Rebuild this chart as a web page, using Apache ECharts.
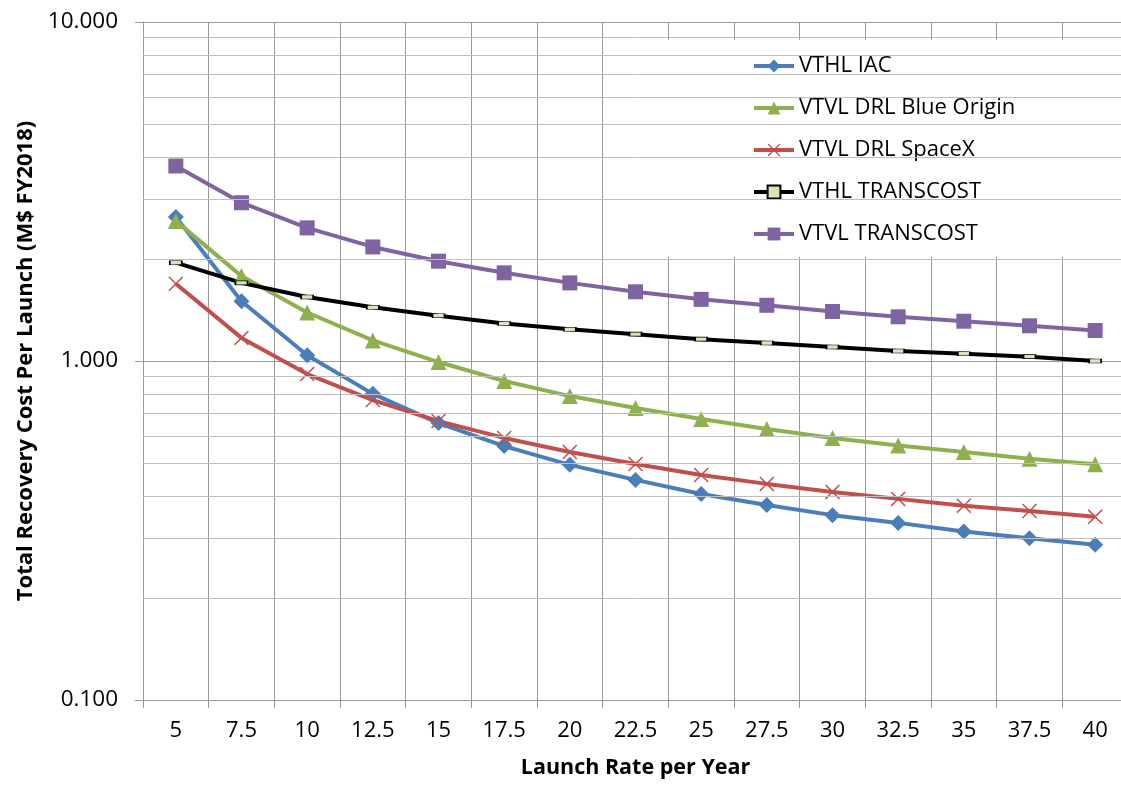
<!DOCTYPE html>
<html>
<head>
<meta charset="utf-8">
<script src="https://cdn.jsdelivr.net/npm/echarts@6/dist/echarts.min.js"></script>
<style>
  html, body { margin: 0; padding: 0; background: #fff; }
  #chart { width: 1121px; height: 785px; }
</style>
</head>
<body>
<div id="chart"></div>
<script>
// Launch rates (per year)
const categories = ['5', '7.5', '10', '12.5', '15', '17.5', '20', '22.5', '25', '27.5', '30', '32.5', '35', '37.5', '40'];

// Total recovery cost per launch, M$ FY2018
const vthlIac        = [2.66, 1.50, 1.04, 0.80, 0.656, 0.561, 0.494, 0.446, 0.405, 0.376, 0.351, 0.333, 0.314, 0.300, 0.287];
const vtvlBlueOrigin = [2.59, 1.78, 1.39, 1.15, 0.993, 0.873, 0.788, 0.727, 0.674, 0.630, 0.593, 0.563, 0.539, 0.515, 0.496];
const vtvlSpaceX     = [1.69, 1.17, 0.915, 0.767, 0.665, 0.593, 0.539, 0.497, 0.461, 0.434, 0.411, 0.392, 0.374, 0.361, 0.347];
const vthlTranscost  = [1.95, 1.70, 1.545, 1.44, 1.36, 1.29, 1.24, 1.20, 1.16, 1.13, 1.10, 1.07, 1.05, 1.03, 1.00];
const vtvlTranscost  = [3.76, 2.93, 2.47, 2.17, 1.97, 1.82, 1.70, 1.60, 1.52, 1.46, 1.40, 1.35, 1.31, 1.27, 1.23];

// Minor gridline values between the decades
const minorGridValues = [0.2, 0.3, 0.4, 0.5, 0.6, 0.7, 0.8, 0.9, 2, 3, 4, 5, 6, 7, 8, 9];

const FONT = '"Open Sans", "Noto Sans", sans-serif';
const crossPath = 'path://M0,0.7 L0.7,0 L5,4.3 L9.3,0 L10,0.7 L5.7,5 L10,9.3 L9.3,10 L5,5.7 L0.7,10 L0,9.3 L4.3,5 Z';

function lineSeries(name, data, color, symbol, symbolSize, extraItem) {
  return {
    name: name,
    type: 'line',
    data: data,
    z: 3,
    symbol: symbol,
    symbolSize: symbolSize,
    showAllSymbol: true,
    lineStyle: { color: color, width: 4 },
    itemStyle: Object.assign({ color: color }, extraItem || {}),
    emphasis: { disabled: true }
  };
}

const chart = echarts.init(document.getElementById('chart'), null, { renderer: 'canvas' });

chart.setOption({
  animation: false,
  backgroundColor: '#fff',
  textStyle: { fontFamily: FONT },
  // plot area runs past the right edge of the canvas
  grid: { left: 143, top: 22, width: 985, height: 678, containLabel: false, outerBoundsMode: 'none' },
  legend: {
    data: ['VTHL IAC', 'VTVL DRL Blue Origin', 'VTVL DRL SpaceX', 'VTHL TRANSCOST', 'VTVL TRANSCOST'],
    orient: 'vertical',
    left: 638,
    top: 40,
    padding: [15, 300, 12, 114],
    backgroundColor: '#fff',
    itemWidth: 40,
    itemHeight: 16,
    itemGap: 20,
    lineStyle: { width: 4 },
    textStyle: { fontFamily: FONT, fontSize: 22, color: '#000', lineHeight: 22 }
  },
  xAxis: {
    type: 'category',
    data: categories,
    boundaryGap: true,
    name: 'Launch Rate per Year',
    nameLocation: 'middle',
    nameGap: 57,
    nameTextStyle: { fontFamily: FONT, fontSize: 21.5, fontWeight: 'bold', color: '#000' },
    axisLine: { lineStyle: { color: '#9A9A9A', width: 1 } },
    axisTick: { show: true, length: 8, alignWithLabel: false, lineStyle: { color: '#9A9A9A' } },
    axisLabel: { fontFamily: FONT, fontSize: 22, color: '#000', margin: 20, interval: 0 },
    splitLine: { show: true, interval: 0, lineStyle: { color: '#9A9A9A', width: 1 } }
  },
  yAxis: {
    type: 'log',
    logBase: 10,
    min: 0.1,
    max: 10,
    splitNumber: 2,
    name: 'Total Recovery Cost Per Launch (M$ FY2018)',
    nameLocation: 'middle',
    nameGap: 104,
    nameTextStyle: { fontFamily: FONT, fontSize: 22, fontWeight: 'bold', color: '#000' },
    axisLine: { show: true, lineStyle: { color: '#9A9A9A', width: 1 } },
    axisTick: { show: true, length: 8, lineStyle: { color: '#9A9A9A' } },
    axisLabel: {
      fontFamily: FONT, fontSize: 22.5, color: '#000', margin: 25,
      formatter: function (v) { return Number(v).toFixed(3); }
    },
    splitLine: { show: true, lineStyle: { color: '#9A9A9A', width: 1 } }
  },
  series: [
    {
      name: 'minor-grid',
      type: 'line',
      data: [],
      z: 1,
      silent: true,
      markLine: {
        silent: true,
        symbol: ['none', 'none'],
        label: { show: false },
        lineStyle: { color: '#BEBEBE', width: 1, type: 'solid' },
        emphasis: { disabled: true },
        data: minorGridValues.map(function (v) { return { yAxis: v }; })
      }
    },
    lineSeries('VTHL IAC', vthlIac, '#4A7EBB', 'diamond', 16),
    lineSeries('VTVL DRL Blue Origin', vtvlBlueOrigin, '#8FB04E', 'triangle', 16),
    lineSeries('VTVL DRL SpaceX', vtvlSpaceX, '#C0504D', crossPath, 15),
    lineSeries('VTHL TRANSCOST', vthlTranscost, '#000000', 'rect', [12, 4],
      { color: '#D7E4BD', borderColor: '#000', borderWidth: 1 }),
    lineSeries('VTVL TRANSCOST', vtvlTranscost, '#8064A2', 'rect', 15)
  ]
});
</script>
</body>
</html>
